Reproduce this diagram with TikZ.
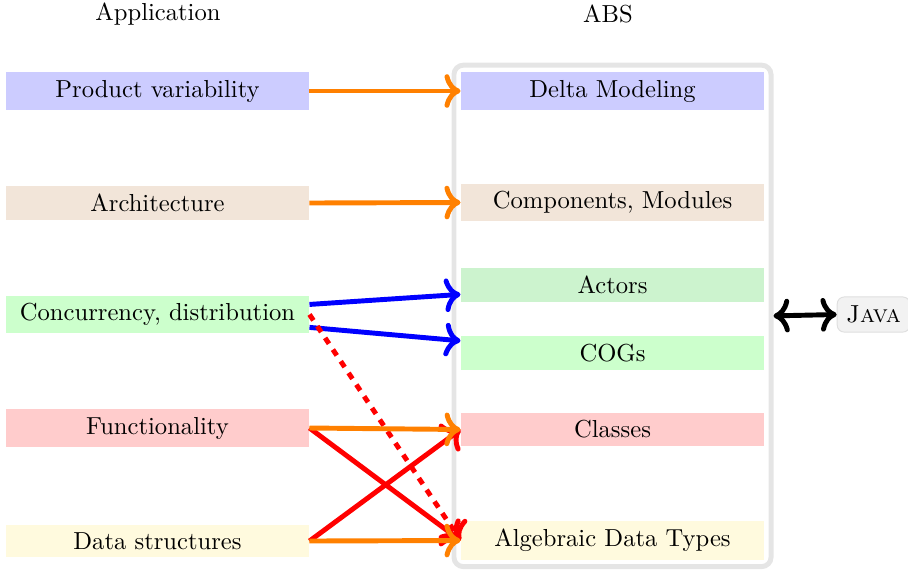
\documentclass[tikz,border=0pt]{standalone}
\usepackage{tikz}
\usetikzlibrary{arrows.meta,positioning,fit}

\definecolor{actorgreen}{RGB}{204,243,206}
\definecolor{datayellow}{RGB}{255,250,222}

\begin{document}
\begin{tikzpicture}[
  x=0.015cm,y=-0.015cm,
  every node/.style={font=\fontsize{10.5}{12.6}\selectfont},
  feature/.style={align=center,minimum width=4.545cm,inner xsep=3pt,inner ysep=3.3pt},
  flow/.style={-{To[scale=1.1]},line width=2.1pt},
  head/.style={}
]
\useasboundingbox (0,0) rectangle (908,569);

% headers
\node[head] (apphead) at (158,14) {Application};
\node[head] (abshead) at (608,14) {ABS};

% application side
\node[feature,fill=blue!20] (prod) at (157.5,91) {Product variability};
\node[feature,fill=brown!20] (arch) at (157.5,203) {Architecture};
\node[feature,fill=green!20] (conc) at (157.5,314.5) {Concurrency, distribution};
\node[feature,fill=red!20] (func) at (157.5,428) {Functionality};
\node[feature,fill=datayellow] (data) at (157.5,541) {Data structures};

% ABS side
\node[feature,fill=blue!20] (delta) at (612.5,91) {Delta Modeling};
\node[feature,fill=brown!20] (comp) at (612.5,202.5) {Components, Modules};
\node[feature,fill=actorgreen] (actors) at (612.5,285) {Actors};
\node[feature,fill=green!20] (cogs) at (612.5,353) {COGs};
\node[feature,fill=red!20] (classes) at (612.5,429.5) {Classes};
\node[feature,fill=datayellow] (adt) at (612.5,540.5) {Algebraic Data Types};

\node[draw=gray!20,line width=2.1pt,rounded corners=4pt,inner sep=2.8pt,fit=(delta)(adt)] (abs) {};

\node[draw=gray!25,fill=gray!10,rounded corners=3pt,inner sep=3.8pt] (java) at (873.5,314.5) {\textsc{Java}};
\draw[{To[scale=1.1]}-{To[scale=1.1]},line width=2.1pt] (abs.east) -- (java.west);

% mappings
\draw[flow,orange] (prod) -- (delta);
\draw[flow,orange] (arch.east) -- (comp.west);
\draw[flow,blue] ([yshift=4.3pt]conc.east) -- ([yshift=-4pt]actors.west);
\draw[flow,blue] ([yshift=-5.5pt]conc.east) -- ([yshift=5.2pt]cogs.west);
\draw[flow,red,dashed] (conc.east) -- (adt.west);
\draw[flow,red] (func.east) -- (adt.west);
\draw[flow,red] (data.east) -- (classes.west);
\draw[flow,orange] (func.east) -- (classes.west);
\draw[flow,orange] (data.east) -- (adt.west);
\end{tikzpicture}
\end{document}
